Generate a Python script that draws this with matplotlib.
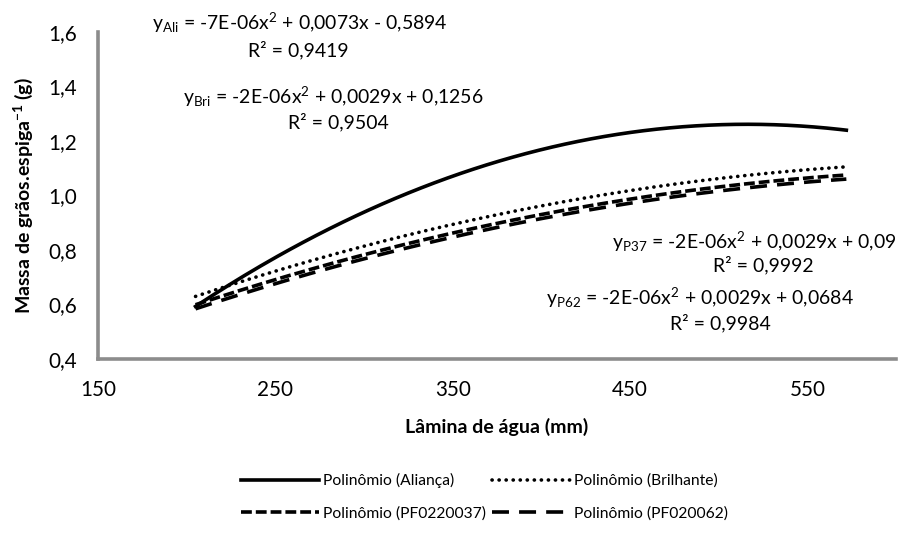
import numpy as np
import matplotlib
matplotlib.use("Agg")
import matplotlib.pyplot as plt

plt.rcParams["font.family"] = ["Lato", "DejaVu Sans"]
plt.rcParams["mathtext.fontset"] = "custom"
plt.rcParams["mathtext.rm"] = "Lato"
plt.rcParams["mathtext.it"] = "Lato:italic"
plt.rcParams["mathtext.bf"] = "Lato:bold"

# values (Lâmina de água, mm -> g)
lamina = [205, 250, 300, 350, 400, 450, 500, 550, 572]
alianca = [0.60, 0.765, 0.935, 1.07, 1.17, 1.235, 1.262, 1.255, 1.235]
brilhante = [0.63, 0.722, 0.814, 0.894, 0.962, 1.018, 1.062, 1.095, 1.105]
pf37 = [0.60, 0.69, 0.783, 0.862, 0.93, 0.987, 1.032, 1.064, 1.075]
pf62 = [0.585, 0.675, 0.768, 0.847, 0.915, 0.972, 1.017, 1.049, 1.06]

x_ticks = [150, 250, 350, 450, 550]
y_ticks = [0.4, 0.6, 0.8, 1.0, 1.2, 1.4, 1.6]

DOT = (0, (0.05, 1.9))
series = [
    ("Polinômio (Aliança)", alianca, "-"),
    ("Polinômio (PF0220037)", pf37, (0, (3, 1.1))),
    ("Polinômio (Brilhante)", brilhante, DOT),
    ("Polinômio (PF020062)", pf62, (0, (4.7, 2.8))),
]

equations = [
    # text, centre x px, centre y px
    (r"y$_{\mathrm{Ali}}$ = -7E-06x$^{2}$ + 0,0073x - 0,5894", 300, 23),
    ("R² = 0,9419", 298, 50),
    (r"y$_{\mathrm{Bri}}$ = -2E-06x$^{2}$ + 0,0029x + 0,1256", 333, 97),
    ("R² = 0,9504", 338, 122),
    (r"y$_{\mathrm{P37}}$ = -2E-06x$^{2}$ + 0,0029x + 0,09", 754, 242),
    ("R² = 0,9992", 763, 265),
    (r"y$_{\mathrm{P62}}$ = -2E-06x$^{2}$ + 0,0029x + 0,0684", 700, 298),
    ("R² = 0,9984", 720, 323),
]

W, H = 906, 543
fig = plt.figure(figsize=(W / 100, H / 100), dpi=100)
ax = fig.add_axes([98 / W, 1 - 359 / H, 798 / W, 327 / H])
renderer = fig.canvas.get_renderer()


def fit(txt, target_px):
    # scale a text so that its drawn width matches the reference
    w = txt.get_window_extent(renderer).width
    txt.set_fontsize(txt.get_fontsize() * target_px / w)
    return txt.get_fontsize()


xs = np.linspace(lamina[0], lamina[-1], 200)
for label, vals, ls in series:
    # polynomial trendline (2nd order) through the read values
    coef = np.polyfit(lamina, vals, 2)
    ax.plot(xs, np.polyval(coef, xs), color="black", lw=2.6, linestyle=ls,
            dash_capstyle="round" if ls == DOT else "butt",
            label=label)

ax.set_xlim(150, 600)
ax.set_ylim(0.4, 1.6)
ax.set_xticks(x_ticks)
ax.set_yticks(y_ticks)
ax.set_yticklabels([f"{v:.1f}".replace(".", ",") for v in y_ticks])

probe = fig.text(0, 0, "150", fontsize=14)
tick_fs = fit(probe, 36)
probe.remove()
ax.tick_params(length=0, labelsize=tick_fs, pad=15)

for s in ["top", "right"]:
    ax.spines[s].set_visible(False)
for s in ["left", "bottom"]:
    ax.spines[s].set_color("#8c8c8c")
    ax.spines[s].set_linewidth(2.6)

ax.set_xlabel("Lâmina de água (mm)", fontsize=14, fontweight="bold")
ax.set_ylabel(r"Massa de grãos.espiga$^{\mathbf{-1}}$ (g)", fontsize=14,
              fontweight="bold")
ax.xaxis.set_label_coords(0.5, (359 - 418) / 327)
ax.yaxis.set_label_coords((35 - 98) / 798, 0.5)

probe = fig.text(0, 0, equations[0][0], fontsize=14)
eq_fs = fit(probe, 296)
probe.remove()
for txt, px, py in equations:
    fig.text(px / W, 1 - py / H, txt, ha="center", va="center", fontsize=eq_fs)

probe = fig.text(0, 0, "Polinômio (PF0220037)", fontsize=12)
leg_fs = fit(probe, 162)
probe.remove()
em = leg_fs * 100 / 72
fig.legend(loc="center", bbox_to_anchor=(485 / W, 1 - 497 / H), ncol=2,
           frameon=False, fontsize=leg_fs, handlelength=78 / em,
           columnspacing=6 / em, handletextpad=4 / em,
           labelspacing=(34 - em) / em, borderpad=0)

fig.savefig("out.png", dpi=100)
